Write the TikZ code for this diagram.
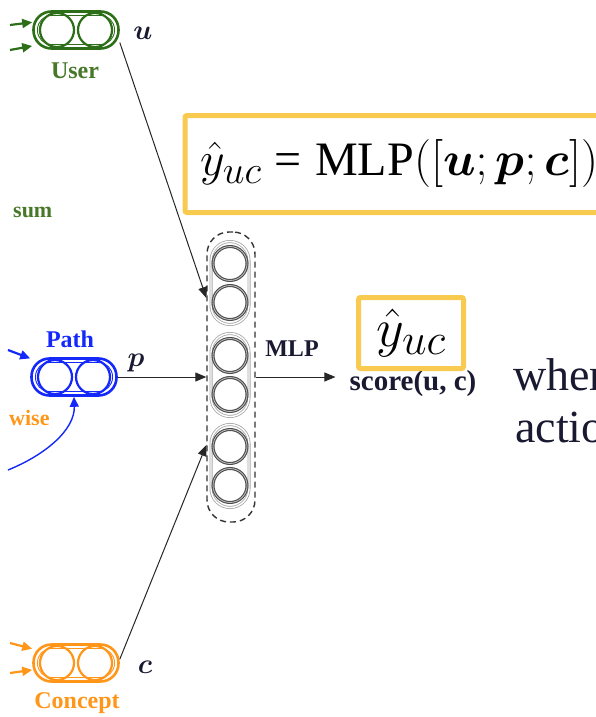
\RequirePackage{fix-cm}
\documentclass[tikz,border=0pt]{standalone}
\usepackage{amsmath,amssymb}
\usepackage{fontspec}
\setmainfont{Liberation Serif}
\usepackage{tikz}
\usetikzlibrary{calc,arrows.meta,positioning}
\DeclareMathSizes{48}{48}{39}{29}
\DeclareMathSizes{54}{54}{44}{34}
\DeclareMathSizes{28}{28}{20}{14}
\definecolor{usergreen}{RGB}{45,110,25}
\definecolor{labelgreen}{RGB}{70,120,40}
\definecolor{pathblue}{RGB}{20,40,250}
\definecolor{conceptorange}{RGB}{255,150,25}
\definecolor{boxyellow}{RGB}{248,202,80}
\definecolor{inknavy}{RGB}{25,25,50}
\tikzset{
  capsule/.style={rectangle, rounded corners=18pt, minimum width=85pt, minimum height=37pt,
                  inner sep=0pt, line width=2.6pt},
  capin/.style  ={rectangle, rounded corners=14pt, minimum width=77pt, minimum height=29pt,
                  inner sep=0pt, line width=0.9pt},
  neuron/.style ={circle, minimum size=34pt, inner sep=0pt, line width=2.2pt},
  mlpbox/.style ={rectangle, rounded corners=22pt, minimum width=48pt, minimum height=290pt,
                  draw=black!80, line width=1.4pt, dash pattern=on 6pt off 4pt},
  mcap/.style   ={rectangle, rounded corners=19pt, minimum width=38pt, minimum height=83pt,
                  draw=black!35, line width=0.8pt, double=white, double distance=1.4pt},
  mneuron/.style={circle, minimum size=34pt, inner sep=0pt, draw=black!70, line width=1.1pt,
                  double=black!25, double distance=0.8pt},
  cin/.style    ={-{Triangle[length=10pt,width=9pt]}, line width=2.2pt},
  feed/.style   ={-{Triangle[length=11pt,width=9pt]}, line width=1pt, black!85},
  lbl/.style    ={font=\fontsize{24}{28}\selectfont\bfseries, inner sep=0pt, anchor=base},
  vec/.style    ={font=\fontsize{28}{30}\selectfont, inner sep=0pt, anchor=base, inknavy},
  ybox/.style   ={draw=boxyellow, line width=5pt, rounded corners=2pt},
  slide/.style  ={font=\fontsize{46}{50}\selectfont, inner sep=0pt, anchor=base west, inknavy},
}
\begin{document}
\begin{tikzpicture}[x=1pt, y=-1pt]
  \useasboundingbox (0,0) rectangle (596,717);
  \clip (0,0) rectangle (596,717);
  % input embeddings
  \foreach \n/\x/\y/\col in {u/76/30/usergreen, p/74/377/pathblue, c/76/663/conceptorange} {
    \node[capsule, draw=\col] (\n cap) at (\x,\y) {};
    \node[capin, draw=\col] (\n capI) at (\n cap) {};
    \node[neuron, draw=\col, xshift=-19pt] (\n capL) at (\n cap) {};
    \node[neuron, draw=\col, xshift=19pt] (\n capR) at (\n cap) {};
  }
  % MLP column
  \node[mlpbox] (mlp) at (231,377) {};
  \foreach \k/\y in {1/283, 2/375, 3/466} {
    \node[mcap] (mcap\k) at (230,\y) {};
    \node[mneuron, yshift=19.5pt] (mu\k a) at (mcap\k) {};
    \node[mneuron, yshift=-19.5pt] (mu\k b) at (mcap\k) {};
  }
  % labels
  \node[lbl, labelgreen] (ulabel) at (75,78) {User};
  \node[lbl, pathblue] (plabel) at (70,347) {Path};
  \node[lbl, conceptorange] (clabel) at (77,708) {Concept};
  \node[lbl, labelgreen, anchor=base west, font=\fontsize{22}{26}\selectfont\bfseries] (sumlbl) at (13,217) {sum};
  \node[lbl, conceptorange, anchor=base west, font=\fontsize{22}{26}\selectfont\bfseries] (wiselbl) at (9,425) {wise};
  \node[vec] (uvec) at (143,40) {$\boldsymbol{u}$};
  \node[vec] (pvec) at (136,366) {$\boldsymbol{p}$};
  \node[vec] (cvec) at (145,673) {$\boldsymbol{c}$};
  \node[lbl, inknavy] (mlplbl) at (292,356) {MLP};
  \node[lbl, inknavy, font=\fontsize{29}{32}\selectfont\bfseries] (score) at (413,390) {score(u, c)};
  % yellow boxes
  \node[ybox, minimum width=105pt, minimum height=71pt, inner sep=0pt,
        font=\fontsize{54}{56}\selectfont] (yhat) at (411,333) {$\hat{y}_{uc}$};
  \node[ybox, anchor=west, inner xsep=15pt, minimum height=97pt,
        font=\fontsize{48}{52}\selectfont] (eqbox) at (182.5,164)
        {$\hat{y}_{uc} \mathrel{\text{=}} \text{MLP}([\boldsymbol{u}; \boldsymbol{p}; \boldsymbol{c}]),$};
  \node[slide] (wher) at (513,390) {wher};
  \node[slide] (actio) at (515,442) {actio};
  % arrows in
  \coordinate (uin1) at (10,25);  \coordinate (uin2) at (10,50);
  \coordinate (pin1) at (8,350);  \coordinate (pin2) at (8,470);
  \coordinate (cin1) at (10,643); \coordinate (cin2) at (10,673);
  \draw[cin, usergreen] (uin1) -- (ucap.170);
  \draw[cin, usergreen] (uin2) -- (ucap.-160);
  \draw[cin, pathblue] (pin1) -- (pcap.157);
  \draw[cin, pathblue, line width=1.4pt] (pin2) .. controls (45,455) and (75,430) .. (pcap.south);
  \draw[cin, conceptorange] (cin1) -- (ccap.162);
  \draw[cin, conceptorange] (cin2) -- (ccap.-171);
  % into and out of the MLP
  \draw[feed] (ucap.-16) -- ([yshift=79pt]mlp.west);
  \draw[feed] (pcap.east) -- (mlp.west);
  \draw[feed] (ccap.5) -- ([yshift=-68pt]mlp.west);
  \draw[feed] (mlp.east) -- ([xshift=-14pt]mlp.east -| score.west);
\end{tikzpicture}
\end{document}
